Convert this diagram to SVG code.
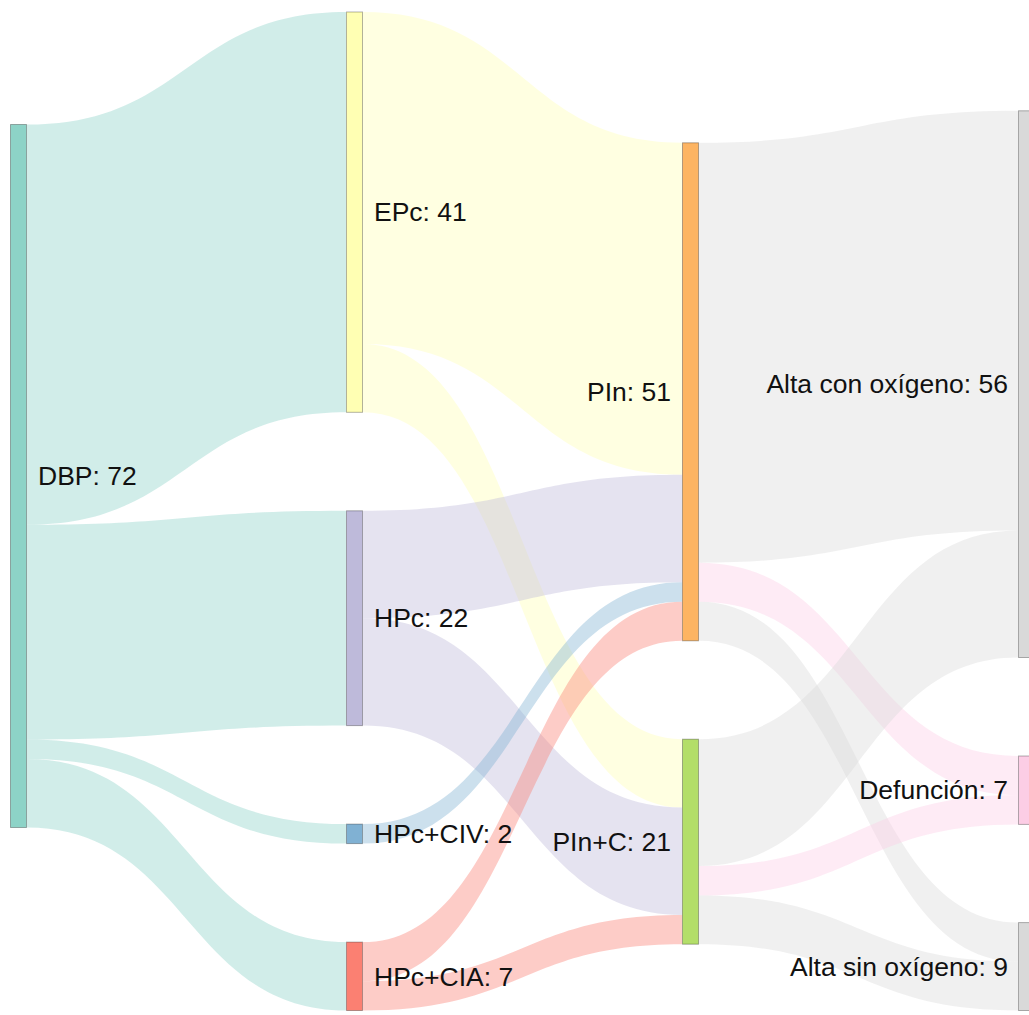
<svg xmlns="http://www.w3.org/2000/svg" width="1029" height="1015" viewBox="0 0 1029 1015">
<style>
.node rect{stroke:#000;stroke-opacity:0.3;stroke-width:1}
.lnk{fill-opacity:0.4;stroke:none}
text{font-family:"Liberation Sans",Arial,sans-serif;font-size:26.5px;fill:#111}
</style>
<rect width="1029" height="1015" fill="#fff"/>
<g id="links">
<path class="lnk" fill="#8dd3c7" d="M27 124.5C186.5 124.5 186.5 12 346 12L346 412.3C186.5 412.3 186.5 524.8 27 524.8Z"/>
<path class="lnk" fill="#8dd3c7" d="M27 524.8C186.5 524.8 186.5 510.8 346 510.8L346 725.6C186.5 725.6 186.5 739.6 27 739.6Z"/>
<path class="lnk" fill="#8dd3c7" d="M27 739.6C186.5 739.6 186.5 824.1 346 824.1L346 843.6C186.5 843.6 186.5 759.1 27 759.1Z"/>
<path class="lnk" fill="#8dd3c7" d="M27 759.1C186.5 759.1 186.5 942.1 346 942.1L346 1010.5C186.5 1010.5 186.5 827.4 27 827.4Z"/>
<path class="lnk" fill="#ffffb3" d="M363 12C522.5 12 522.5 142.8 682 142.8L682 474.8C522.5 474.8 522.5 344 363 344Z"/>
<path class="lnk" fill="#ffffb3" d="M363 344C522.5 344 522.5 739.2 682 739.2L682 807.5C522.5 807.5 522.5 412.3 363 412.3Z"/>
<path class="lnk" fill="#bebada" d="M363 510.8C522.5 510.8 522.5 474.8 682 474.8L682 582.2C522.5 582.2 522.5 618.2 363 618.2Z"/>
<path class="lnk" fill="#bebada" d="M363 618.2C522.5 618.2 522.5 807.5 682 807.5L682 914.9C522.5 914.9 522.5 725.6 363 725.6Z"/>
<path class="lnk" fill="#80b1d3" d="M363 824.1C522.5 824.1 522.5 582.2 682 582.2L682 601.7C522.5 601.7 522.5 843.6 363 843.6Z"/>
<path class="lnk" fill="#fb8072" d="M363 942.1C522.5 942.1 522.5 601.7 682 601.7L682 640.8C522.5 640.8 522.5 981.2 363 981.2Z"/>
<path class="lnk" fill="#fb8072" d="M363 981.2C522.5 981.2 522.5 914.9 682 914.9L682 944.2C522.5 944.2 522.5 1010.5 363 1010.5Z"/>
<path class="lnk" fill="#d9d9d9" d="M699 142.8C858.5 142.8 858.5 110.8 1018 110.8L1018 530.6C858.5 530.6 858.5 562.7 699 562.7Z"/>
<path class="lnk" fill="#fccde5" d="M699 562.7C858.5 562.7 858.5 756 1018 756L1018 795.1C858.5 795.1 858.5 601.7 699 601.7Z"/>
<path class="lnk" fill="#d9d9d9" d="M699 601.7C858.5 601.7 858.5 922.6 1018 922.6L1018 961.7C858.5 961.7 858.5 640.8 699 640.8Z"/>
<path class="lnk" fill="#d9d9d9" d="M699 739.2C858.5 739.2 858.5 530.6 1018 530.6L1018 657.5C858.5 657.5 858.5 866.1 699 866.1Z"/>
<path class="lnk" fill="#fccde5" d="M699 866.1C858.5 866.1 858.5 795.1 1018 795.1L1018 824.4C858.5 824.4 858.5 895.4 699 895.4Z"/>
<path class="lnk" fill="#d9d9d9" d="M699 895.4C858.5 895.4 858.5 961.7 1018 961.7L1018 1010.5C858.5 1010.5 858.5 944.2 699 944.2Z"/>
</g>
<g id="node-DBP" class="node"><rect x="10.5" y="124.5" width="16" height="703" fill="#8dd3c7"/><text x="38" y="476" dy="0.35em">DBP: 72</text></g>
<g id="node-EPc" class="node"><rect x="346.5" y="12" width="16" height="400.3" fill="#ffffb3"/><text x="374" y="212" dy="0.35em">EPc: 41</text></g>
<g id="node-HPc" class="node"><rect x="346.5" y="510.8" width="16" height="214.8" fill="#bebada"/><text x="374" y="618" dy="0.35em">HPc: 22</text></g>
<g id="node-HPcCIV" class="node"><rect x="346.5" y="824.1" width="16" height="19.5" fill="#80b1d3"/><text x="374" y="834" dy="0.35em">HPc+CIV: 2</text></g>
<g id="node-HPcCIA" class="node"><rect x="346.5" y="942.1" width="16" height="68.4" fill="#fb8072"/><text x="374" y="976.3" dy="0.35em">HPc+CIA: 7</text></g>
<g id="node-PIn" class="node"><rect x="682.5" y="142.8" width="16" height="498" fill="#fdb462"/><text x="671" y="391.8" dy="0.35em" text-anchor="end">PIn: 51</text></g>
<g id="node-PInC" class="node"><rect x="682.5" y="739.2" width="16" height="205" fill="#b3de69"/><text x="671" y="841.7" dy="0.35em" text-anchor="end">PIn+C: 21</text></g>
<g id="node-AltaCon" class="node"><rect x="1018.5" y="110.8" width="16" height="546.7" fill="#d9d9d9"/><text x="1008" y="384.2" dy="0.35em" text-anchor="end">Alta con oxígeno: 56</text></g>
<g id="node-Defuncion" class="node"><rect x="1018.5" y="756" width="16" height="68.4" fill="#fccde5"/><text x="1008" y="790.2" dy="0.35em" text-anchor="end">Defunción: 7</text></g>
<g id="node-AltaSin" class="node"><rect x="1018.5" y="922.6" width="16" height="87.9" fill="#d9d9d9"/><text x="1008" y="966.6" dy="0.35em" text-anchor="end">Alta sin oxígeno: 9</text></g>
</svg>
